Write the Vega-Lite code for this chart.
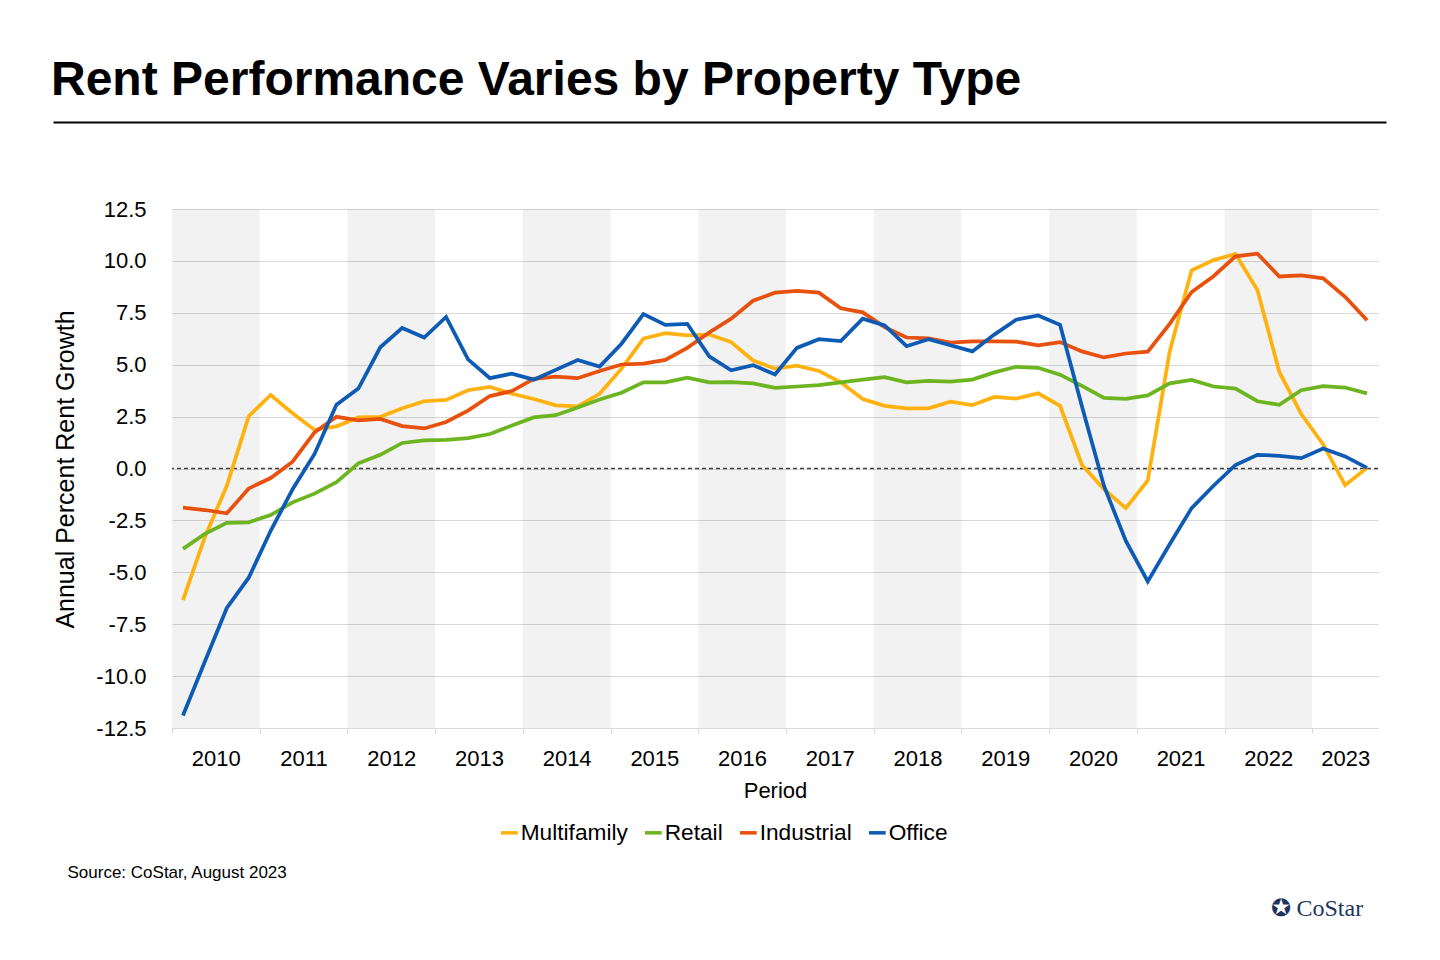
{
  "$schema": "https://vega.github.io/schema/vega-lite/v6.json",
  "width": 1206,
  "height": 519,
  "autosize": {"type": "none"},
  "padding": {"left": 172, "top": 209, "right": 62, "bottom": 232},
  "background": "white",
  "config": {
    "font": "Liberation Sans",
    "view": {"stroke": null},
    "axis": {"labelFont": "Liberation Sans", "titleFont": "Liberation Sans", "labelColor": "black", "titleColor": "black", "titleFontWeight": "normal"}
  },
  "title": {
    "text": "Rent Performance Varies by Property Type",
    "anchor": "start",
    "frame": "group",
    "font": "Liberation Sans",
    "fontSize": 48,
    "fontWeight": "bold",
    "color": "black",
    "baseline": "alphabetic",
    "offset": 24,
    "dx": -121,
    "dy": 45
  },
  "datasets": {
    "rents": [
      {"t": 2010.125, "Multifamily": -6.34, "Retail": -3.87, "Industrial": -1.88, "Office": -11.9},
      {"t": 2010.375, "Multifamily": -3.3, "Retail": -3.15, "Industrial": -2.0, "Office": -9.3},
      {"t": 2010.625, "Multifamily": -0.83, "Retail": -2.62, "Industrial": -2.16, "Office": -6.72},
      {"t": 2010.875, "Multifamily": 2.52, "Retail": -2.59, "Industrial": -0.96, "Office": -5.26},
      {"t": 2011.125, "Multifamily": 3.54, "Retail": -2.24, "Industrial": -0.46, "Office": -3.0},
      {"t": 2011.375, "Multifamily": 2.66, "Retail": -1.63, "Industrial": 0.33, "Office": -1.0},
      {"t": 2011.625, "Multifamily": 1.86, "Retail": -1.21, "Industrial": 1.74, "Office": 0.7},
      {"t": 2011.875, "Multifamily": 2.03, "Retail": -0.66, "Industrial": 2.49, "Office": 3.07},
      {"t": 2012.125, "Multifamily": 2.46, "Retail": 0.25, "Industrial": 2.32, "Office": 3.85},
      {"t": 2012.375, "Multifamily": 2.49, "Retail": 0.66, "Industrial": 2.39, "Office": 5.84},
      {"t": 2012.625, "Multifamily": 2.9, "Retail": 1.23, "Industrial": 2.04, "Office": 6.77},
      {"t": 2012.875, "Multifamily": 3.24, "Retail": 1.36, "Industrial": 1.93, "Office": 6.31},
      {"t": 2013.125, "Multifamily": 3.3, "Retail": 1.38, "Industrial": 2.24, "Office": 7.3},
      {"t": 2013.375, "Multifamily": 3.77, "Retail": 1.46, "Industrial": 2.79, "Office": 5.26},
      {"t": 2013.625, "Multifamily": 3.93, "Retail": 1.66, "Industrial": 3.49, "Office": 4.35},
      {"t": 2013.875, "Multifamily": 3.6, "Retail": 2.07, "Industrial": 3.73, "Office": 4.57},
      {"t": 2014.125, "Multifamily": 3.35, "Retail": 2.46, "Industrial": 4.32, "Office": 4.28},
      {"t": 2014.375, "Multifamily": 3.04, "Retail": 2.57, "Industrial": 4.42, "Office": 4.75},
      {"t": 2014.625, "Multifamily": 2.99, "Retail": 2.94, "Industrial": 4.35, "Office": 5.23},
      {"t": 2014.875, "Multifamily": 3.6, "Retail": 3.32, "Industrial": 4.7, "Office": 4.91},
      {"t": 2015.125, "Multifamily": 4.81, "Retail": 3.65, "Industrial": 5.01, "Office": 6.01},
      {"t": 2015.375, "Multifamily": 6.26, "Retail": 4.15, "Industrial": 5.05, "Office": 7.44},
      {"t": 2015.625, "Multifamily": 6.52, "Retail": 4.15, "Industrial": 5.23, "Office": 6.92},
      {"t": 2015.875, "Multifamily": 6.41, "Retail": 4.37, "Industrial": 5.81, "Office": 6.97},
      {"t": 2016.125, "Multifamily": 6.45, "Retail": 4.15, "Industrial": 6.55, "Office": 5.4},
      {"t": 2016.375, "Multifamily": 6.09, "Retail": 4.16, "Industrial": 7.22, "Office": 4.73},
      {"t": 2016.625, "Multifamily": 5.2, "Retail": 4.1, "Industrial": 8.08, "Office": 4.98},
      {"t": 2016.875, "Multifamily": 4.81, "Retail": 3.88, "Industrial": 8.47, "Office": 4.53},
      {"t": 2017.125, "Multifamily": 4.95, "Retail": 3.95, "Industrial": 8.55, "Office": 5.81},
      {"t": 2017.375, "Multifamily": 4.7, "Retail": 4.02, "Industrial": 8.47, "Office": 6.23},
      {"t": 2017.625, "Multifamily": 4.15, "Retail": 4.15, "Industrial": 7.72, "Office": 6.14},
      {"t": 2017.875, "Multifamily": 3.35, "Retail": 4.28, "Industrial": 7.52, "Office": 7.22},
      {"t": 2018.125, "Multifamily": 3.02, "Retail": 4.4, "Industrial": 6.81, "Office": 6.89},
      {"t": 2018.375, "Multifamily": 2.9, "Retail": 4.15, "Industrial": 6.31, "Office": 5.89},
      {"t": 2018.625, "Multifamily": 2.9, "Retail": 4.22, "Industrial": 6.27, "Office": 6.23},
      {"t": 2018.875, "Multifamily": 3.22, "Retail": 4.18, "Industrial": 6.06, "Office": 5.94},
      {"t": 2019.125, "Multifamily": 3.05, "Retail": 4.28, "Industrial": 6.12, "Office": 5.64},
      {"t": 2019.375, "Multifamily": 3.45, "Retail": 4.63, "Industrial": 6.12, "Office": 6.45},
      {"t": 2019.625, "Multifamily": 3.37, "Retail": 4.9, "Industrial": 6.11, "Office": 7.17},
      {"t": 2019.875, "Multifamily": 3.62, "Retail": 4.85, "Industrial": 5.93, "Office": 7.37},
      {"t": 2020.125, "Multifamily": 3.02, "Retail": 4.52, "Industrial": 6.09, "Office": 6.92},
      {"t": 2020.375, "Multifamily": 0.17, "Retail": 3.98, "Industrial": 5.64, "Office": 2.99},
      {"t": 2020.625, "Multifamily": -1.0, "Retail": 3.4, "Industrial": 5.35, "Office": -0.83},
      {"t": 2020.875, "Multifamily": -1.91, "Retail": 3.35, "Industrial": 5.54, "Office": -3.49},
      {"t": 2021.125, "Multifamily": -0.58, "Retail": 3.52, "Industrial": 5.63, "Office": -5.44},
      {"t": 2021.375, "Multifamily": 5.64, "Retail": 4.1, "Industrial": 6.97, "Office": -3.65},
      {"t": 2021.625, "Multifamily": 9.55, "Retail": 4.27, "Industrial": 8.5, "Office": -1.91},
      {"t": 2021.875, "Multifamily": 10.04, "Retail": 3.95, "Industrial": 9.26, "Office": -0.83},
      {"t": 2022.125, "Multifamily": 10.33, "Retail": 3.85, "Industrial": 10.22, "Office": 0.17},
      {"t": 2022.375, "Multifamily": 8.6, "Retail": 3.24, "Industrial": 10.35, "Office": 0.66},
      {"t": 2022.625, "Multifamily": 4.65, "Retail": 3.07, "Industrial": 9.25, "Office": 0.61},
      {"t": 2022.875, "Multifamily": 2.62, "Retail": 3.77, "Industrial": 9.3, "Office": 0.5},
      {"t": 2023.125, "Multifamily": 1.16, "Retail": 3.97, "Industrial": 9.16, "Office": 0.96},
      {"t": 2023.375, "Multifamily": -0.8, "Retail": 3.9, "Industrial": 8.27, "Office": 0.58},
      {"t": 2023.625, "Multifamily": 0.03, "Retail": 3.62, "Industrial": 7.14, "Office": 0.03}
    ],
    "shade": [
      {"start": 2010, "end": 2011},
      {"start": 2012, "end": 2013},
      {"start": 2014, "end": 2015},
      {"start": 2016, "end": 2017},
      {"start": 2018, "end": 2019},
      {"start": 2020, "end": 2021},
      {"start": 2022, "end": 2023}
    ]
  },
  "layer": [
    {
      "layer": [
        {
          "data": {"name": "shade"},
          "mark": {"type": "rect", "fill": "#000000", "fillOpacity": 0.05},
          "encoding": {
            "x": {"field": "start", "type": "quantitative", "scale": {"domain": [2010, 2023.75], "nice": false, "zero": false}},
            "x2": {"field": "end"}
          }
        },
        {
          "data": {"values": [{}]},
          "mark": {"type": "rule", "color": "#404040", "strokeWidth": 1.5, "strokeDash": [4, 3]},
          "encoding": {"y": {"datum": 0, "type": "quantitative"}}
        },
        {
          "data": {"name": "rents"},
          "transform": [{"fold": ["Multifamily", "Retail", "Industrial", "Office"], "as": ["type", "value"]}],
          "mark": {"type": "line", "strokeWidth": 3.75},
          "encoding": {
            "x": {
              "field": "t",
              "type": "quantitative",
              "scale": {"domain": [2010, 2023.75], "nice": false, "zero": false},
              "axis": {
                "title": "Period",
                "values": [2010, 2011, 2012, 2013, 2014, 2015, 2016, 2017, 2018, 2019, 2020, 2021, 2022, 2023],
                "format": "d",
                "grid": false,
                "domainColor": "#d9d9d9",
                "domainWidth": 1,
                "tickColor": "#d9d9d9",
                "tickSize": 5,
                "labelFontSize": 22,
                "labelPadding": 15,
                "labelAlign": "center",
                "labelOffset": {"condition": {"test": "datum.value == 2023", "value": 33}, "value": 43.8},
                "labelFlush": false,
                "labelOverlap": false,
                "titleFontSize": 22,
                "titleY": 69,
                "titleBaseline": "alphabetic"
              }
            },
            "y": {
              "field": "value",
              "type": "quantitative",
              "scale": {"domain": [-12.5, 12.5], "nice": false, "zero": false},
              "axis": {
                "title": "Annual Percent Rent Growth",
                "values": [-12.5, -10, -7.5, -5, -2.5, 0, 2.5, 5, 7.5, 10, 12.5],
                "labelExpr": "replace(format(datum.value, '.1f'), '\u2212', '-')",
                "domain": false,
                "ticks": false,
                "grid": true,
                "gridColor": "#d9d9d9",
                "gridWidth": 1,
                "labelFontSize": 22,
                "labelPadding": 26,
                "titleFontSize": 25,
                "titleX": -99,
                "titleY": 260,
                "titleBaseline": "alphabetic",
                "titleAlign": "center",
                "titleAngle": -90
              }
            },
            "color": {
              "field": "type",
              "type": "nominal",
              "scale": {"domain": ["Multifamily", "Retail", "Industrial", "Office"], "range": ["#FFB20F", "#6DB520", "#E8500E", "#0D5BB5"]},
              "legend": {
                "title": null,
                "orient": "none",
                "legendX": 326,
                "legendY": 612,
                "direction": "horizontal",
                "symbolType": "stroke",
                "symbolStrokeWidth": 3.5,
                "symbolSize": 280,
                "labelFontSize": 22.7,
                "labelFont": "Liberation Sans",
                "labelColor": "black",
                "labelOffset": 0,
                "columnPadding": 9,
                "padding": 0
              }
            }
          }
        }
      ]
    },
    {
      "data": {"name": "rents"},
      "mark": {"type": "point", "opacity": 0},
      "encoding": {
        "x": {
          "field": "t",
          "type": "quantitative",
          "scale": {"domain": [2010, 2023.75], "nice": false, "zero": false, "range": [-119, 1214]},
          "axis": {
            "orient": "top",
            "offset": 87,
            "domainColor": "black",
            "domainWidth": 2,
            "ticks": false,
            "labels": false,
            "grid": false,
            "title": "✪ CoStar",
            "titleX": 1098,
            "titleY": 793,
            "titleAngle": 0,
            "titleAlign": "left",
            "titleBaseline": "alphabetic",
            "titleFont": "Liberation Serif",
            "titleFontSize": 24,
            "titleFontWeight": "normal",
            "titleColor": "#1d3461"
          }
        },
        "y": {
          "field": "Office",
          "type": "quantitative",
          "axis": {
            "orient": "right",
            "domain": false,
            "ticks": false,
            "labels": false,
            "grid": false,
            "title": "Source: CoStar, August 2023",
            "titleX": -1311,
            "titleY": 668,
            "titleAngle": 0,
            "titleAlign": "left",
            "titleBaseline": "alphabetic",
            "titleFontSize": 17,
            "titleFontWeight": "normal",
            "titleColor": "black"
          }
        }
      }
    }
  ],
  "resolve": {"scale": {"x": "independent", "y": "independent"}}
}
